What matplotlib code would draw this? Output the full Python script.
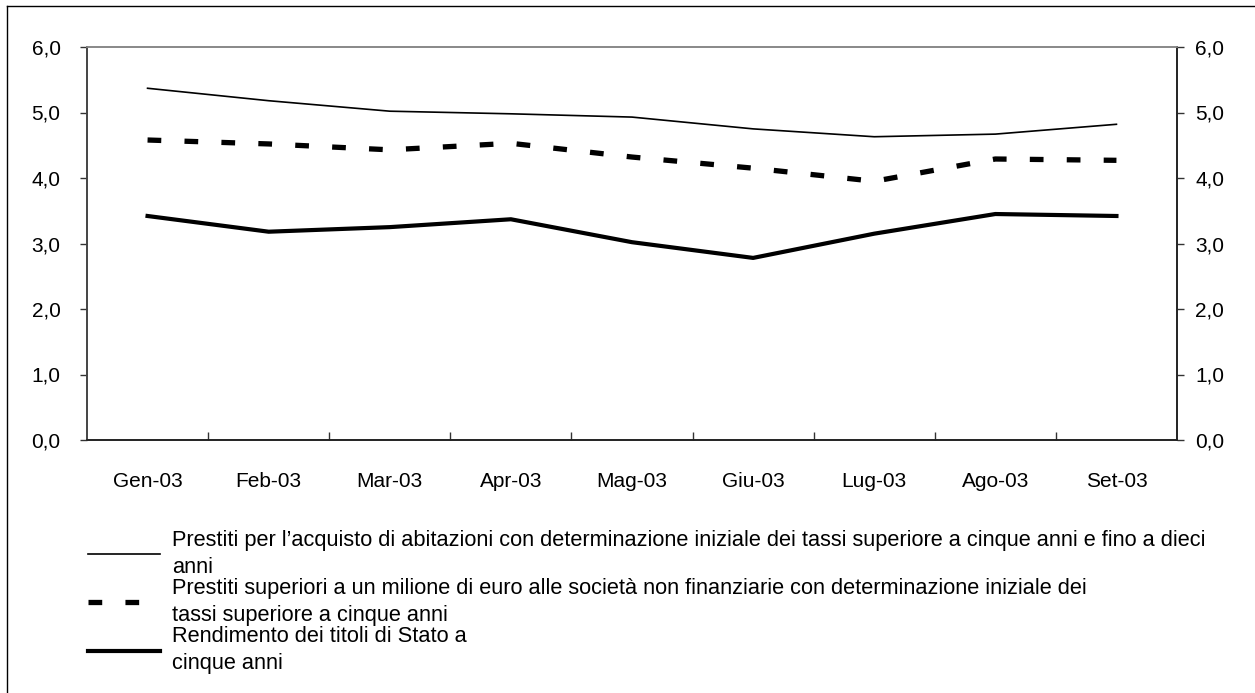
import matplotlib
matplotlib.use("Agg")
import matplotlib.pyplot as plt
from matplotlib.lines import Line2D
import numpy as np

plt.rcParams['font.family'] = ['Liberation Sans', 'DejaVu Sans']

categories = ["Gen-03", "Feb-03", "Mar-03", "Apr-03", "Mag-03", "Giu-03", "Lug-03", "Ago-03", "Set-03"]
abitazioni = [5.37, 5.18, 5.02, 4.98, 4.93, 4.75, 4.63, 4.67, 4.82]
societa = [4.58, 4.52, 4.43, 4.53, 4.32, 4.15, 3.95, 4.29, 4.27]
titoli = [3.42, 3.18, 3.25, 3.37, 3.02, 2.78, 3.15, 3.45, 3.42]
labels = [
    "Prestiti per l\u2019acquisto di abitazioni con determinazione iniziale dei tassi superiore a cinque anni e fino a dieci\nanni",
    "Prestiti superiori a un milione di euro alle societ\u00e0 non finanziarie con determinazione iniziale dei\ntassi superiore a cinque anni",
    "Rendimento dei titoli di Stato a\ncinque anni",
]
yticks = [0, 1, 2, 3, 4, 5, 6]
ytick_labels = [f"{v:.1f}".replace('.', ',') for v in yticks]

FS = 15
LFS = 15.7

fig = plt.figure(figsize=(12.55, 6.93), dpi=100)
ax = fig.add_axes([87/1255, 1-440/693, (1177-87)/1255, (440-47)/693])

x = np.arange(len(categories))
l1, = ax.plot(x, abitazioni, color='black', lw=1.2)
l2, = ax.plot(x, societa, color='black', lw=3.8, dashes=(2.6, 4.4), dash_capstyle='butt')
l3, = ax.plot(x, titoli, color='black', lw=3.0)

ax.set_xlim(-0.5, len(categories) - 0.5)
ax.set_ylim(0, 6)
ax.set_xticks(x)
ax.set_xticklabels(categories, fontsize=FS)
ax.set_xticks(np.arange(0.5, len(categories) - 1, 1), minor=True)
ax.tick_params(axis='x', which='major', length=0, pad=23)
ax.tick_params(axis='x', which='minor', direction='in', length=6, width=1, color='#333333')
ax.set_yticks(yticks)
ax.set_yticklabels(ytick_labels, fontsize=FS)
ax.tick_params(axis='y', which='major', direction='out', length=5, width=1, pad=14,
               left=True, right=False, labelleft=True, labelright=False, color='#333333')

ax2 = ax.twinx()
ax2.set_ylim(0, 6)
ax2.set_yticks(yticks)
ax2.set_yticklabels(ytick_labels, fontsize=FS)
ax2.tick_params(axis='y', which='major', direction='out', length=5, width=1, pad=8, color='#333333')

for a in (ax, ax2):
    a.spines['top'].set_color('#888888')
    a.spines['left'].set_color('#444444')
    a.spines['right'].set_color('#222222')
    a.spines['bottom'].set_color('#222222')
    for s in a.spines.values():
        s.set_linewidth(1.2)

leg = fig.legend([l1, l2, l3], labels, loc='upper left', bbox_to_anchor=(88/1255, 1-530/693),
                 frameon=False, fontsize=LFS, handlelength=3.3, handletextpad=0.55,
                 labelspacing=0.0, borderaxespad=0, borderpad=0)
for t in leg.get_texts():
    t.set_linespacing(1.38)

# figure border (top and left)
fig.add_artist(Line2D([7/1255, 1], [1-6/693, 1-6/693], color='black', lw=1, transform=fig.transFigure))
fig.add_artist(Line2D([7/1255, 7/1255], [0, 1-6/693], color='black', lw=1, transform=fig.transFigure))

fig.savefig("out.png", dpi=100)
